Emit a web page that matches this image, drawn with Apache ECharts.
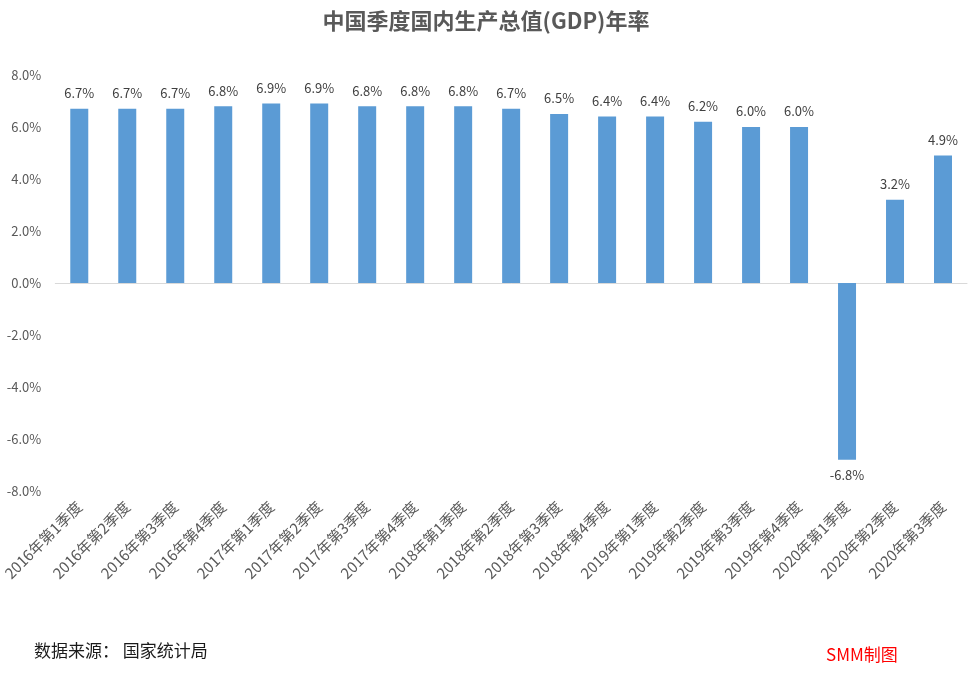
<!DOCTYPE html>
<html><head><meta charset="utf-8">
<script src="https://cdn.jsdelivr.net/npm/echarts@6/dist/echarts.min.js"></script>
<style>html,body{margin:0;padding:0;background:#fff}#c{width:972px;height:677px}</style>
</head><body><div id="c"></div>
<script>
const categories = ['2016年第1季度','2016年第2季度','2016年第3季度','2016年第4季度','2017年第1季度','2017年第2季度','2017年第3季度','2017年第4季度','2018年第1季度','2018年第2季度','2018年第3季度','2018年第4季度','2019年第1季度','2019年第2季度','2019年第3季度','2019年第4季度','2020年第1季度','2020年第2季度','2020年第3季度'];
const gdpRate = [6.7,6.7,6.7,6.8,6.9,6.9,6.8,6.8,6.8,6.7,6.5,6.4,6.4,6.2,6.0,6.0,-6.8,3.2,4.9];
const yTicks = {min:-8, max:8, interval:2};
const FONT = '"Noto Sans CJK SC", "Noto Sans", sans-serif';
const chart = echarts.init(document.getElementById('c'));
chart.setOption({
  animation:false,
  backgroundColor:'#fff',
  title:{text:'中国季度国内生产总值(GDP)年率', left:'center', top:5,
    textStyle:{fontFamily:FONT, fontSize:22, fontWeight:'bold', color:'#595959'}},
  grid:{left:55, right:5, top:75, bottom:186},
  xAxis:[{
    type:'category', data:categories, position:'bottom',
    axisLine:{show:false, onZero:false}, axisTick:{show:false},
    axisLabel:{rotate:45, margin:13, fontFamily:FONT, fontSize:15, color:'#595959', interval:0}
  },{
    type:'category', data:categories, position:'bottom',
    axisLine:{show:true, onZero:true, lineStyle:{color:'#d9d9d9', width:1}},
    axisTick:{show:false}, axisLabel:{show:false}
  }],
  yAxis:{type:'value', min:yTicks.min, max:yTicks.max, interval:yTicks.interval,
    axisLine:{show:false}, axisTick:{show:false}, splitLine:{show:false},
    axisLabel:{margin:14, fontFamily:FONT, fontSize:13, color:'#595959',
      formatter:v=>v.toFixed(1)+'%'}},
  series:[{
    type:'bar', data:gdpRate, barWidth:'37.5%', xAxisIndex:0,
    itemStyle:{color:'#5B9BD5'},
    label:{show:true, position:'outside', distance:9, fontFamily:FONT, fontSize:13, color:'#404040',
      formatter:p=>p.value.toFixed(1)+'%'}
  }],
  graphic:[
    {type:'text', left:34, top:642, style:{text:'数据来源： 国家统计局', font:'17px '+FONT, fill:'#1a1a1a'}},
    {type:'text', left:826, top:646, style:{text:'SMM制图', font:'17px '+FONT, fill:'#ff0000'}}
  ]
});
</script></body></html>
